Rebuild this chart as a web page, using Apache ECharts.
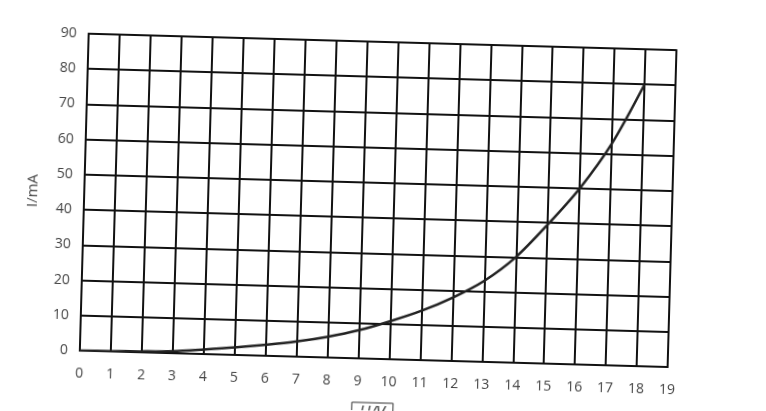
<!DOCTYPE html>
<html>
<head>
<meta charset="utf-8">
<script src="https://cdn.jsdelivr.net/npm/echarts@6/dist/echarts.min.js"></script>
<style>
  html, body { margin: 0; padding: 0; background: #ffffff; overflow: hidden; }
  #chart { width: 766px; height: 411px; transform: rotate(1.6deg); transform-origin: 50% 50%; }
</style>
</head>
<body>
<div id="chart"></div>
<script>
// Data (U in volts, I in mA)
const voltage = [0, 1, 2, 3, 4, 5, 6, 7, 8, 9, 10, 11, 12, 13, 14, 15, 16, 17, 18];
const current = [0, 0.1, 0.3, 0.6, 1.3, 2.1, 3.1, 4.3, 5.9, 8.0, 10.8, 14.0, 18.0, 23.0, 30.0, 39.5, 50.0, 63.0, 80.0];
const xAxisName = 'U/V';
const yAxisName = 'I/mA';

const chart = echarts.init(document.getElementById('chart'), null, { renderer: 'canvas' });
const points = voltage.map((v, i) => [v, current[i]]);

chart.setOption({
  backgroundColor: '#ffffff',
  animation: false,
  grid: { left: 84, top: 42, width: 588, height: 317, show: true, borderColor: '#444', borderWidth: 2,
    containLabel: false, outerBoundsMode: 'none' },
  xAxis: {
    type: 'value', min: 0, max: 19, interval: 1,
    name: xAxisName, nameLocation: 'middle', nameGap: 44,
    nameTextStyle: { fontFamily: 'Open Sans', fontSize: 16, fontStyle: 'italic', color: '#333',
      borderColor: '#333', borderWidth: 1, padding: [2, 8, 6, 8] },
    axisLine: { show: true, lineStyle: { color: '#111', width: 2 } },
    axisTick: { show: false },
    axisLabel: { margin: 16, fontFamily: 'Open Sans', fontSize: 14, color: '#444' },
    splitLine: { show: true, lineStyle: { color: '#111', width: 2 } }
  },
  yAxis: {
    type: 'value', min: 0, max: 90, interval: 10,
    name: yAxisName, nameLocation: 'middle', nameGap: 44,
    nameTextStyle: { fontFamily: 'Open Sans', fontSize: 15, color: '#444' },
    axisLine: { show: true, lineStyle: { color: '#111', width: 2 } },
    axisTick: { show: false },
    axisLabel: { margin: 12, fontFamily: 'Open Sans', fontSize: 14, color: '#444' },
    splitLine: { show: true, lineStyle: { color: '#111', width: 2 } }
  },
  series: [{
    type: 'line',
    data: points,
    smooth: 0.3,
    showSymbol: false,
    lineStyle: { color: '#222', width: 2.5 }
  }]
});
</script>
</body>
</html>
